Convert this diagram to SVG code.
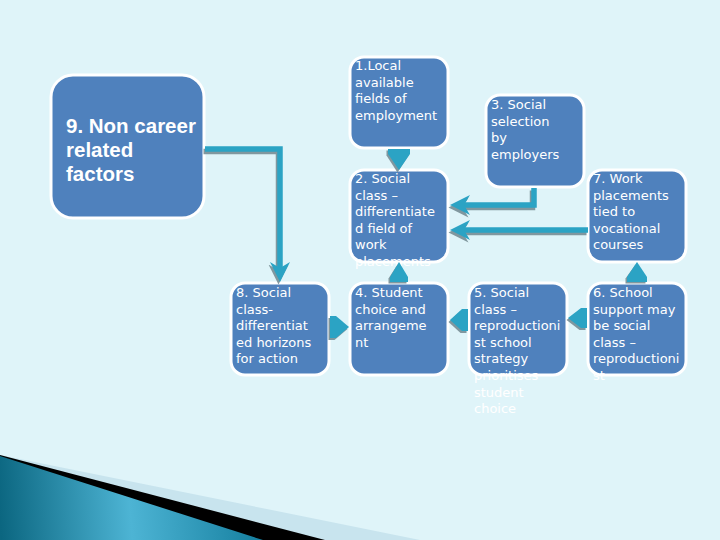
<svg xmlns="http://www.w3.org/2000/svg" width="720" height="540" viewBox="0 0 720 540">
  <defs>
    <style>
      .box { fill: #4f81bd; stroke: #ffffff; stroke-width: 3; }
      .t { font-family: "DejaVu Sans", Verdana, sans-serif; font-size: 13px; fill: #ffffff; }
      .tb { font-family: "Liberation Sans", Arial, sans-serif; font-size: 20.5px; font-weight: bold; fill: #ffffff; }
      .ln { fill: none; stroke: #2ba3c4; stroke-width: 5.5; stroke-linejoin: miter; }
      .lns { fill: none; stroke: #80979f; stroke-width: 5.5; stroke-linejoin: miter; }
      .blk { fill: #2ba3c4; }
      .blks { fill: #80979f; }
    </style>
    <marker id="ah" markerUnits="userSpaceOnUse" viewBox="0 -11 21 22" markerWidth="21" markerHeight="22" refX="10" refY="0" orient="auto">
      <path d="M20,0 L0,-10 L6,0 L0,10 Z" fill="#2ba3c4"/>
    </marker>
    <marker id="ahs" markerUnits="userSpaceOnUse" viewBox="0 -11 21 22" markerWidth="21" markerHeight="22" refX="10" refY="0" orient="auto">
      <path d="M20,0 L0,-10 L6,0 L0,10 Z" fill="#80979f"/>
    </marker>
    <linearGradient id="wedge" gradientUnits="userSpaceOnUse" x1="0" y1="520" x2="260" y2="500">
      <stop offset="0" stop-color="#0b6680"/>
      <stop offset="0.5" stop-color="#4db4d4"/>
      <stop offset="1" stop-color="#157f9f"/>
    </linearGradient>
  </defs>

  <rect x="0" y="0" width="720" height="540" fill="#dff4f9"/>

  <g id="decoration">
    <polygon points="0,455 420,540 0,540" fill="#c8e4ee"/>
    <polygon points="0,455 325,540 0,540" fill="#000000"/>
    <polygon points="0,456 263,540 0,540" fill="url(#wedge)"/>
  </g>

  <g id="n9">
    <rect class="box" x="51" y="75" width="153" height="143" rx="22"/>
    <text class="tb" x="66" y="133">9. Non career<tspan x="66" dy="24">related</tspan><tspan x="66" dy="24">factors</tspan></text>
  </g>

  <g id="n1">
    <rect class="box" x="350" y="57" width="98" height="91" rx="14"/>
    <text class="t" x="355" y="70">1.Local<tspan x="355" dy="16.6">available</tspan><tspan x="355" dy="16.6">fields of</tspan><tspan x="355" dy="16.6">employment</tspan></text>
  </g>

  <g id="n3">
    <rect class="box" x="486" y="95" width="98" height="92" rx="14"/>
    <text class="t" x="491" y="109">3. Social<tspan x="491" dy="16.6">selection</tspan><tspan x="491" dy="16.6">by</tspan><tspan x="491" dy="16.6">employers</tspan></text>
  </g>

  <g id="n7">
    <rect class="box" x="588" y="170" width="98" height="92" rx="14"/>
    <text class="t" x="593" y="183">7. Work<tspan x="593" dy="16.6">placements</tspan><tspan x="593" dy="16.6">tied to</tspan><tspan x="593" dy="16.6">vocational</tspan><tspan x="593" dy="16.6">courses</tspan></text>
  </g>

  <g id="n8">
    <rect class="box" x="231" y="283" width="98" height="92" rx="14"/>
    <text class="t" x="236" y="297">8. Social<tspan x="236" dy="16.6">class-</tspan><tspan x="236" dy="16.6">differentiat</tspan><tspan x="236" dy="16.6">ed horizons</tspan><tspan x="236" dy="16.6">for action</tspan></text>
  </g>

  <g id="n4">
    <rect class="box" x="350" y="283" width="98" height="92" rx="14"/>
    <text class="t" x="355" y="297">4. Student<tspan x="355" dy="16.6">choice and</tspan><tspan x="355" dy="16.6">arrangeme</tspan><tspan x="355" dy="16.6">nt</tspan></text>
  </g>

  <g id="n5">
    <rect class="box" x="469" y="283" width="98" height="92" rx="14"/>
    <text class="t" x="474" y="297">5. Social<tspan x="474" dy="16.6">class –</tspan><tspan x="474" dy="16.6">reproductioni</tspan><tspan x="474" dy="16.6">st school</tspan><tspan x="474" dy="16.6">strategy</tspan><tspan x="474" dy="16.6">prioritises</tspan><tspan x="474" dy="16.6">student</tspan><tspan x="474" dy="16.6">choice</tspan></text>
  </g>

  <g id="n6">
    <rect class="box" x="588" y="283" width="98" height="92" rx="14"/>
    <text class="t" x="593" y="297">6. School<tspan x="593" dy="16.6">support may</tspan><tspan x="593" dy="16.6">be social</tspan><tspan x="593" dy="16.6">class –</tspan><tspan x="593" dy="16.6">reproductioni</tspan><tspan x="593" dy="16.6">st</tspan></text>
  </g>

  <g id="n2">
    <rect class="box" x="350" y="170" width="98" height="92" rx="14"/>
    <text class="t" x="355" y="183">2. Social<tspan x="355" dy="16.6">class –</tspan><tspan x="355" dy="16.6">differentiate</tspan><tspan x="355" dy="16.6">d field of</tspan><tspan x="355" dy="16.6">work</tspan><tspan x="355" dy="16.6">placements</tspan></text>
  </g>

  <g id="connectors">
    <path class="lns" d="M205,149 H280 V272" transform="translate(-1.5,2.5)" marker-end="url(#ahs)"/>
    <path class="ln" d="M205,149 H280 V272" marker-end="url(#ah)"/>
    <path class="lns" d="M534,188 V205 H460" transform="translate(-1.5,2.5)" marker-end="url(#ahs)"/>
    <path class="ln" d="M534,188 V205 H460" marker-end="url(#ah)"/>
    <path class="lns" d="M588,230 H460" transform="translate(-1.5,2.5)" marker-end="url(#ahs)"/>
    <path class="ln" d="M588,230 H460" marker-end="url(#ah)"/>

    <polygon class="blks" points="388,149 410,149 410,154 399,171 388,154" transform="translate(-1.5,1.5)"/>
    <polygon class="blk" points="388,149 410,149 410,154 399,170 388,154"/>
    <polygon class="blks" points="390,282 408,282 408,277 399,263 390,277" transform="translate(-1.5,1.5)"/>
    <polygon class="blk" points="390,282 408,282 408,277 399,262 390,277"/>
    <polygon class="blks" points="330,316 336,316 349,327 336,338 330,338" transform="translate(-1.5,2)"/>
    <polygon class="blk" points="330,316 336,316 349,327 336,338 330,338"/>
    <polygon class="blks" points="468,309 462,309 450,320 462,331 468,331" transform="translate(-1.5,2)"/>
    <polygon class="blk" points="468,309 462,309 450,320 462,331 468,331"/>
    <polygon class="blks" points="587,308 581,308 568,318 581,328 587,328" transform="translate(-1.5,2)"/>
    <polygon class="blk" points="587,308 581,308 568,318 581,328 587,328"/>
    <polygon class="blks" points="627,282 647,282 647,277 637,263 627,277" transform="translate(-1.5,1.5)"/>
    <polygon class="blk" points="627,282 647,282 647,277 637,262 627,277"/>
  </g>
</svg>
